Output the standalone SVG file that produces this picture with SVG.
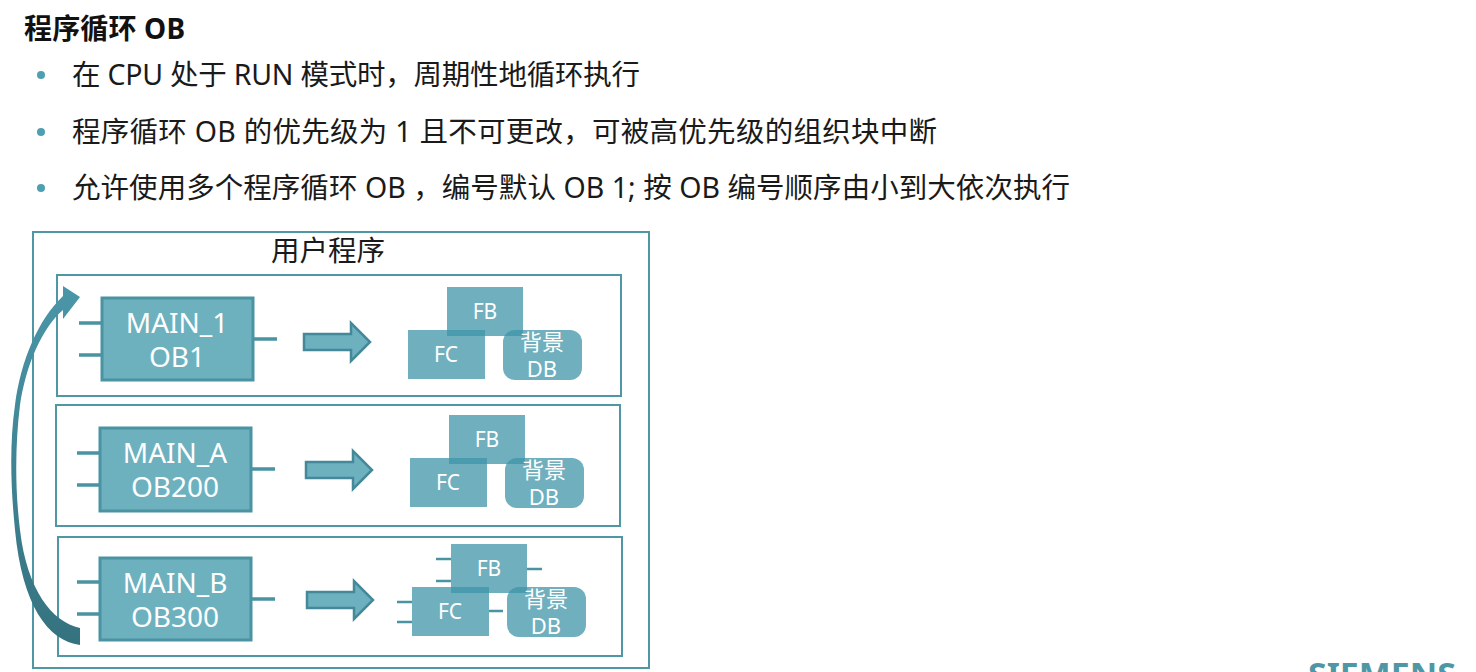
<svg xmlns="http://www.w3.org/2000/svg" width="1476" height="672" viewBox="0 0 1476 672">
<style>
text{font-family:"Noto Sans","Noto Sans CJK SC",sans-serif}
.t{font-size:28.5px;fill:#1a1a1a}
.frame{fill:#fff;stroke:#4f97a5;stroke-width:2}
.main{fill:#6db1bf;stroke:#4a93a3;stroke-width:3}
.box{fill:#3f94a8;fill-opacity:.75}
.w{fill:#fff;text-anchor:middle}
.m{font-size:28px}
.s{font-size:21px}
.d{font-size:22px}
.pin{stroke:#4a93a3;stroke-width:3.5;fill:none}
.pin2{stroke:#4a93a3;stroke-width:2.5;fill:none}
.ar{fill:#6db1bf;stroke:#44899a;stroke-width:2.5}
</style>
<defs>
<linearGradient id="g" x1="0" y1="1" x2="0" y2="0"><stop offset="0" stop-color="#35727f"/><stop offset="1" stop-color="#4a96a8"/></linearGradient>
<g id="blocks">
<rect class="box" x="39" y="0" width="76" height="49"/>
<rect class="box" x="0" y="43" width="77" height="49"/>
<rect class="box" x="95" y="43" width="79" height="50" rx="12"/>
<text class="w s" x="77" y="32">FB</text>
<text class="w s" x="38" y="75">FC</text>
<text class="w d" x="134" y="63">背景</text>
<text class="w d" x="134" y="90">DB</text>
</g>
<path id="bigarrow" class="ar" d="M0,-8H47V-19L66,0L47,19V8H0Z"/>
</defs>
<g id="heading">
<text x="24" y="39" font-size="28" font-weight="700" fill="#111" textLength="161">程序循环 OB</text>
<circle cx="41" cy="75" r="4" fill="#4f9fb2"/>
<circle cx="41" cy="132" r="4" fill="#4f9fb2"/>
<circle cx="41" cy="188" r="4" fill="#4f9fb2"/>
<text class="t" x="72" y="85" textLength="568">在 CPU 处于 RUN 模式时，周期性地循环执行</text>
<text class="t" x="72" y="142" textLength="865">程序循环 OB 的优先级为 1 且不可更改，可被高优先级的组织块中断</text>
<text class="t" x="72" y="198" textLength="998">允许使用多个程序循环 OB ，编号默认 OB 1; 按 OB 编号顺序由小到大依次执行</text>
</g>
<g id="user-program">
<rect class="frame" x="33" y="232" width="616" height="436"/>
<text x="328" y="261" font-size="28.5" fill="#1a1a1a" text-anchor="middle">用户程序</text>
</g>
<g id="panel-1">
<rect class="frame" x="57" y="275" width="564" height="121"/>
<path class="pin" d="M79,323H102M79,355H102M253,339H277"/>
<rect class="main" x="102" y="298" width="151" height="82"/>
<text class="w m" x="177" y="333">MAIN_1</text>
<text class="w m" x="177" y="367">OB1</text>
<use href="#bigarrow" x="304" y="342"/>
<use href="#blocks" x="408" y="287"/>
</g>
<g id="panel-2">
<rect class="frame" x="56" y="405" width="564" height="121"/>
<path class="pin" d="M77,453H100M77,485H100M251,469H275"/>
<rect class="main" x="100" y="428" width="151" height="83"/>
<text class="w m" x="175" y="463">MAIN_A</text>
<text class="w m" x="175" y="497">OB200</text>
<use href="#bigarrow" x="306" y="470"/>
<use href="#blocks" x="410" y="415"/>
</g>
<g id="panel-3">
<rect class="frame" x="58" y="537" width="564" height="119"/>
<path class="pin" d="M77,582H100M77,614H100M251,599H275"/>
<rect class="main" x="100" y="558" width="151" height="82"/>
<text class="w m" x="175" y="593">MAIN_B</text>
<text class="w m" x="175" y="627">OB300</text>
<use href="#bigarrow" x="307" y="600"/>
<path class="pin2" d="M436,559H451M436,581H451M527,569H542M397,602H412M397,622H412M489,611H503"/>
<use href="#blocks" x="412" y="544"/>
</g>
<g id="connectors">
<path fill="url(#g)" d="M80,645C48,641 22,605 15,530C10,480 10,440 15,405C21,360 38,320 63,296V286L80,297L63,319V310C42,328 26,365 20,405C15,445 15,490 20,530C27,590 52,622 80,628Z"/>
</g>
<text id="logo" x="1308" y="686" font-size="32" font-weight="700" fill="#4f97a5" textLength="148" lengthAdjust="spacingAndGlyphs">SIEMENS</text>
</svg>
